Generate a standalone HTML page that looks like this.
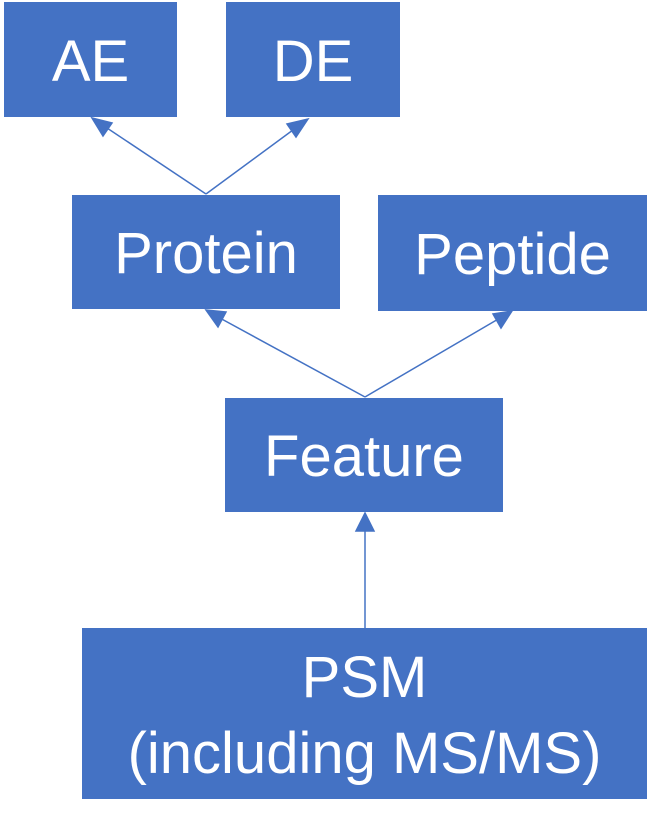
<!DOCTYPE html>
<html><head><meta charset="utf-8"><style>
html,body{margin:0;padding:0;background:#fff;}
body{width:655px;height:834px;position:relative;overflow:hidden;font-family:"Liberation Sans",sans-serif;}
.b{position:absolute;background:#4472C4;color:#fff;display:flex;align-items:center;justify-content:center;text-align:center;font-size:58px;line-height:76px;box-sizing:border-box;padding-top:4px;}
svg{position:absolute;left:0;top:0;}
</style></head><body>
<div class="b" style="left:4px;top:2px;width:173px;height:115px;">AE</div>
<div class="b" style="left:226px;top:2px;width:174px;height:115px;">DE</div>
<div class="b" style="left:72px;top:195px;width:268px;height:114px;">Protein</div>
<div class="b" style="left:378px;top:195px;width:269px;height:116px;">Peptide</div>
<div class="b" style="left:225px;top:398px;width:278px;height:114px;">Feature</div>
<div class="b" style="left:82px;top:628px;width:565px;height:171px;">PSM<br>(including MS/MS)</div>
<svg width="655" height="834">
<g stroke="#4472C4" stroke-width="1.5" fill="#4472C4">
<line x1="206" y1="194" x2="104" y2="126"/><polygon points="92,118 112,123 103,136"/>
<line x1="206" y1="194" x2="297" y2="127"/><polygon points="308,119 296,137 287,124"/>
<line x1="365" y1="397" x2="218" y2="317"/><polygon points="206,310 226,312 218,327"/>
<line x1="365" y1="397" x2="500" y2="318"/><polygon points="512,311 501,328 493,314"/>
<line x1="365" y1="628" x2="365" y2="526"/><polygon points="365,513 374,531 356,531"/>
</g>
</svg>
</body></html>
